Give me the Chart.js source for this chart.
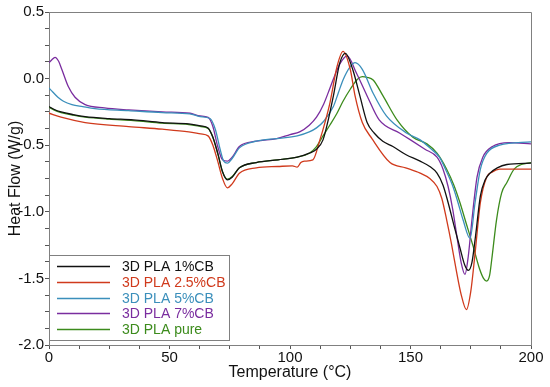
<!DOCTYPE html>
<html>
<head>
<meta charset="utf-8">
<script src="https://cdn.jsdelivr.net/npm/chart.js@4.4.1/dist/chart.umd.min.js"></script>
<style>
  body { margin: 0; background: #fff; }
  #box { width: 550px; height: 387px; }
</style>
</head>
<body>
<div id="box"><canvas id="grafico" width="550" height="387"></canvas></div>
<script>
// =================== DADOS ===================
const seriesNames = ['3D PLA 1%CB', '3D PLA 2.5%CB', '3D PLA 5%CB', '3D PLA 7%CB', '3D PLA pure'];
const seriesColors = ['#111111', '#d03a1c', '#3b8fbb', '#7a2d9f', '#3c8b1c'];

// 1%CB
const temp1 = [0, 2, 5, 10, 15, 25, 35, 47, 58, 63, 66, 68, 70, 72, 74, 76, 79, 86, 95, 103, 108, 111, 113.7, 116, 118, 120.7, 123, 126, 129, 132, 135, 138.5, 142.7, 148, 154, 158, 161, 163.5, 165.6, 168, 170.5, 172.5, 174, 175.5, 177, 179, 181, 183, 186, 190, 200];
const flow1 = [-0.21, -0.23, -0.25, -0.27, -0.285, -0.30, -0.31, -0.33, -0.34, -0.355, -0.37, -0.44, -0.56, -0.70, -0.76, -0.74, -0.67, -0.63, -0.61, -0.59, -0.56, -0.53, -0.46, -0.30, -0.13, 0.12, 0.19, 0.07, -0.13, -0.33, -0.41, -0.47, -0.51, -0.57, -0.62, -0.66, -0.71, -0.80, -0.93, -1.10, -1.27, -1.40, -1.44, -1.38, -1.18, -0.88, -0.76, -0.71, -0.67, -0.645, -0.635];

// 2.5%CB
const temp2 = [0, 5, 15, 33, 47, 58, 63, 66, 68, 70, 72, 74, 76, 79, 86, 95, 101, 103, 104.5, 106, 109.5, 112.4, 114.5, 116.6, 119.5, 122, 125, 127, 130, 134, 141.5, 148, 154, 158, 161, 163, 165, 167, 169, 171, 173.2, 175, 176.8, 179, 181.6, 184, 187, 192, 200];
const flow2 = [-0.26, -0.29, -0.33, -0.36, -0.38, -0.40, -0.415, -0.43, -0.50, -0.62, -0.75, -0.82, -0.79, -0.71, -0.67, -0.66, -0.655, -0.665, -0.63, -0.62, -0.61, -0.46, -0.33, -0.18, 0.09, 0.205, 0.07, -0.13, -0.33, -0.45, -0.63, -0.67, -0.71, -0.75, -0.81, -0.90, -1.06, -1.24, -1.44, -1.62, -1.735, -1.60, -1.31, -0.93, -0.74, -0.70, -0.68, -0.68, -0.68];

// 5%CB
const temp3 = [0, 1, 3.7, 6, 9.5, 14, 19, 33, 47, 58.5, 62.7, 66.8, 69, 71, 72.5, 74, 76, 79, 86, 94.5, 103, 108, 111, 114, 118, 120, 122, 125, 127, 130, 134.5, 140, 148.5, 154, 158, 162, 165, 167.6, 169.7, 171.8, 174.7, 176.8, 179, 181.7, 187, 200];
const flow3 = [-0.07, -0.09, -0.14, -0.17, -0.195, -0.21, -0.225, -0.24, -0.255, -0.265, -0.285, -0.30, -0.38, -0.53, -0.62, -0.635, -0.60, -0.52, -0.47, -0.45, -0.43, -0.40, -0.37, -0.32, -0.21, -0.11, -0.01, 0.09, 0.12, 0.07, -0.11, -0.28, -0.41, -0.46, -0.52, -0.59, -0.70, -0.81, -0.93, -1.06, -1.20, -0.93, -0.68, -0.56, -0.50, -0.475];

// 7%CB
const temp4 = [0, 1.1, 2.5, 4, 5.3, 8, 10.8, 15, 23, 33, 47, 58.5, 62.7, 66, 68, 70, 72, 74, 76, 79, 86, 94.5, 100, 104, 108, 111, 114, 116.6, 118.5, 120.7, 123.7, 127.6, 132, 137, 145.6, 150, 156, 161, 163.5, 165.6, 167.5, 169.3, 171, 172.6, 174, 175.5, 177.6, 180, 184, 191, 200];
const flow4 = [0.12, 0.14, 0.16, 0.13, 0.07, -0.06, -0.14, -0.195, -0.22, -0.235, -0.25, -0.26, -0.28, -0.29, -0.36, -0.51, -0.61, -0.62, -0.59, -0.51, -0.47, -0.45, -0.42, -0.40, -0.35, -0.29, -0.19, -0.07, 0.02, 0.11, 0.17, 0.04, -0.13, -0.31, -0.41, -0.46, -0.53, -0.59, -0.68, -0.81, -0.98, -1.19, -1.38, -1.47, -1.33, -1.06, -0.74, -0.59, -0.51, -0.48, -0.49];

// pure
const temp5 = [0, 2, 5, 10, 15, 25, 35, 47, 58, 63, 66, 68, 70, 72, 74, 76, 79, 86, 95, 103, 108, 111, 113.7, 116.5, 119.5, 122, 125, 128, 130, 132, 134.5, 138.6, 144.4, 151, 156.8, 161, 165, 168, 170.5, 173, 176, 178.5, 180.3, 181.6, 182.8, 183.7, 185.7, 187.8, 190, 193, 196, 200];
const flow5 = [-0.215, -0.235, -0.255, -0.275, -0.29, -0.305, -0.315, -0.335, -0.345, -0.36, -0.375, -0.44, -0.56, -0.70, -0.755, -0.735, -0.67, -0.63, -0.61, -0.59, -0.56, -0.51, -0.43, -0.35, -0.26, -0.17, -0.08, -0.005, 0.015, 0.01, -0.01, -0.13, -0.31, -0.44, -0.49, -0.56, -0.68, -0.80, -0.93, -1.08, -1.26, -1.42, -1.50, -1.52, -1.48, -1.36, -1.06, -0.86, -0.78, -0.68, -0.645, -0.63];

const allTemps = [temp1, temp2, temp3, temp4, temp5];
const allFlows = [flow1, flow2, flow3, flow4, flow5];

const FONTE = '"Liberation Sans", Arial, sans-serif';

// =================== PLUGINS ===================
// moldura em volta da área do gráfico (topo e direita)
const moldura = {
  id: 'moldura',
  afterDraw(chart) {
    const {ctx, chartArea} = chart;
    ctx.save();
    ctx.strokeStyle = '#808080';
    ctx.lineWidth = 1;
    ctx.beginPath();
    ctx.moveTo(chartArea.left, chartArea.top + 0.5);
    ctx.lineTo(chartArea.right + 0.5, chartArea.top + 0.5);
    ctx.lineTo(chartArea.right + 0.5, chartArea.bottom);
    ctx.stroke();
    ctx.restore();
  }
};

// legenda dentro do gráfico, canto inferior esquerdo
const legendaDentro = {
  id: 'legendaDentro',
  afterDatasetsDraw(chart) {
    const {ctx, chartArea} = chart;
    const x0 = chartArea.left, y0 = chartArea.top + 243, w = 180, h = 85;
    ctx.save();
    ctx.fillStyle = '#fff';
    ctx.fillRect(x0, y0, w, h);
    ctx.strokeStyle = '#808080';
    ctx.lineWidth = 1;
    ctx.strokeRect(x0 + 0.5, y0 + 0.5, w, h);
    ctx.font = '14px ' + FONTE;
    ctx.textBaseline = 'middle';
    chart.data.datasets.forEach((ds, i) => {
      const y = Math.round(y0 + 11 + i * 15.75) + 0.5;
      ctx.strokeStyle = ds.borderColor;
      ctx.lineWidth = 1.3;
      ctx.beginPath();
      ctx.moveTo(x0 + 8, y);
      ctx.lineTo(x0 + 61, y);
      ctx.stroke();
      ctx.fillStyle = ds.borderColor;
      ctx.fillText(ds.label, x0 + 73, y + 1);
    });
    ctx.restore();
  }
};

// =================== GRÁFICO ===================
const datasets = seriesNames.map((nome, i) => ({
  label: nome,
  data: allTemps[i].map((t, k) => ({x: t, y: allFlows[i][k]})),
  borderColor: seriesColors[i],
  borderWidth: 1.3,
  pointRadius: 0,
  fill: false,
  cubicInterpolationMode: 'monotone'
}));

new Chart(document.getElementById('grafico'), {
  type: 'line',
  data: { datasets: datasets },
  options: {
    responsive: false,
    animation: false,
    devicePixelRatio: 1,
    layout: { padding: { top: 12, right: 19, left: 0, bottom: 0 } },
    plugins: {
      legend: { display: false },
      tooltip: { enabled: false }
    },
    scales: {
      x: {
        type: 'linear',
        min: 0,
        max: 200,
        afterFit(scale) { scale.height = 42; },
        border: { color: '#808080', width: 1 },
        grid: { drawOnChartArea: false, tickLength: 4, color: '#555' },
        ticks: {
          stepSize: 12.5,
          autoSkip: false,
          maxRotation: 0,
          padding: 0,
          color: '#111',
          font: { family: FONTE, size: 15 },
          callback: v => (v % 50 === 0 ? String(v) : '')
        },
        title: {
          display: true,
          text: 'Temperature (°C)',
          color: '#111',
          font: { family: FONTE, size: 16 },
          padding: { top: 0, bottom: 5 }
        }
      },
      y: {
        type: 'linear',
        min: -2,
        max: 0.5,
        afterFit(scale) { scale.width = 49; },
        border: { color: '#808080', width: 1 },
        grid: { drawOnChartArea: false, tickLength: 4, color: '#555' },
        ticks: {
          stepSize: 0.125,
          autoSkip: false,
          padding: 1,
          color: '#111',
          font: { family: FONTE, size: 15 },
          callback: v => (Math.abs(v * 2 - Math.round(v * 2)) < 1e-6 ? v.toFixed(1) : '')
        },
        title: {
          display: true,
          text: 'Heat Flow (W/g)',
          color: '#111',
          font: { family: FONTE, size: 16 },
          padding: { top: 6, bottom: 0 }
        }
      }
    }
  },
  plugins: [legendaDentro, moldura]
});
</script>
</body>
</html>
